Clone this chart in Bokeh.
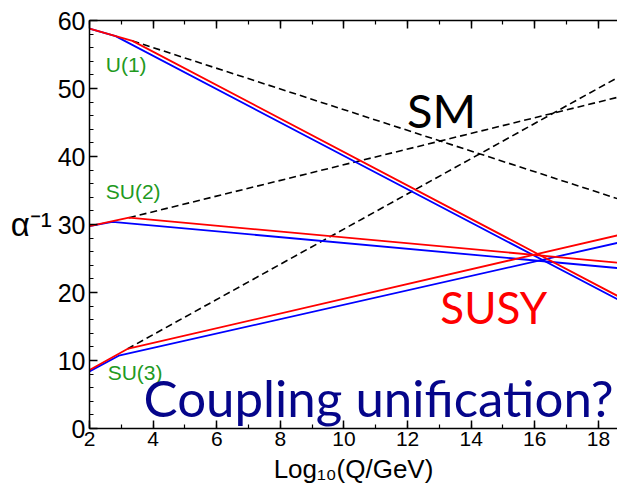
from bokeh.plotting import figure
from bokeh.models import Label, LinearAxis, SingleIntervalTicker, Range1d
from bokeh.embed import file_html
from bokeh.resources import INLINE

# ---- data: alpha^-1 vs log10(Q/GeV), straight segments ----
# U(1)
u1_blue_x = [2.0, 2.82, 18.6]
u1_blue_y = [58.8, 57.7, 19.0]
u1_red_x = [2.0, 3.35, 18.6]
u1_red_y = [58.8, 57.0, 19.5]
u1_sm_x = [3.35, 18.6]
u1_sm_y = [57.0, 33.8]
# SU(2)
su2_blue_x = [2.0, 2.72, 18.6]
su2_blue_y = [29.75, 30.4, 23.6]
su2_red_x = [2.0, 3.24, 18.6]
su2_red_y = [29.75, 31.0, 24.4]
su2_sm_x = [3.24, 18.6]
su2_sm_y = [31.0, 48.7]
# SU(3)
su3_blue_x = [2.0, 2.92, 18.6]
su3_blue_y = [8.4, 10.7, 27.3]
su3_red_x = [2.0, 3.19, 18.6]
su3_red_y = [8.6, 11.7, 28.4]
su3_sm_x = [3.19, 18.6]
su3_sm_y = [11.7, 51.6]

x_min, x_max = 2.0, 18.6
y_min, y_max = 0.0, 60.0

p = figure(width=617, height=486, x_range=Range1d(x_min, x_max), y_range=Range1d(y_min, y_max),
           output_backend="svg", toolbar_location=None,
           min_border_left=89, min_border_right=0, min_border_top=20, min_border_bottom=56)
p.outline_line_color = None
p.grid.visible = False
p.background_fill_color = "white"

bottom = p.below[0]
left = p.left[0]
bottom.ticker = SingleIntervalTicker(interval=2, num_minor_ticks=2)
left.ticker = SingleIntervalTicker(interval=10, num_minor_ticks=5)
top = LinearAxis(ticker=SingleIntervalTicker(interval=2, num_minor_ticks=2))
p.add_layout(top, "above")

for ax in [bottom, left, top]:
    ax.axis_line_width = 1.5
    ax.axis_line_color = "black"
    ax.major_tick_in = 8
    ax.major_tick_out = 0
    ax.minor_tick_in = 4
    ax.minor_tick_out = 0
    ax.major_tick_line_width = 1.5
    ax.minor_tick_line_width = 1.2
    ax.major_tick_line_color = "black"
    ax.minor_tick_line_color = "black"
    ax.major_label_text_font = "Liberation Sans"
    ax.major_label_text_color = "black"

bottom.major_label_text_font_size = "21px"
bottom.major_label_standoff = 3
left.major_label_text_font_size = "25px"
left.major_label_standoff = 4
top.major_label_overrides = {i: "" for i in range(0, 22, 2)}
top.major_label_text_font_size = "1px"
top.major_label_standoff = 0

bottom.axis_label = "Log\u2081\u2080(Q/GeV)"
bottom.axis_label_text_font = "Liberation Sans"
bottom.axis_label_text_font_size = "26px"
bottom.axis_label_text_font_style = "normal"
bottom.axis_label_text_color = "black"
bottom.axis_label_standoff = 5

left.axis_label = "\u03b1\u207b\u00b9"
left.axis_label_text_font = "Liberation Sans"
left.axis_label_text_font_size = "33px"
left.axis_label_text_font_style = "normal"
left.axis_label_text_color = "black"
left.axis_label_standoff = 3
try:
    left.axis_label_orientation = "horizontal"
except Exception:
    pass

dash = "7 4"
for xs, ys in [(u1_sm_x, u1_sm_y), (su2_sm_x, su2_sm_y), (su3_sm_x, su3_sm_y)]:
    p.line(xs, ys, line_color="black", line_width=1.6, line_dash=dash)
for xs, ys in [(u1_blue_x, u1_blue_y), (su2_blue_x, su2_blue_y), (su3_blue_x, su3_blue_y)]:
    p.line(xs, ys, line_color="#0000ff", line_width=1.8)
for xs, ys in [(u1_red_x, u1_red_y), (su2_red_x, su2_red_y), (su3_red_x, su3_red_y)]:
    p.line(xs, ys, line_color="#ff0000", line_width=1.8)

green = "#1f9a1f"
for txt, x, y in [("U(1)", 2.51, 53.5), ("SU(2)", 2.51, 34.8), ("SU(3)", 2.57, 8.2)]:
    p.add_layout(Label(x=x, y=y, text=txt, text_font="Liberation Sans", text_font_size="21px",
                       text_color=green, text_baseline="alphabetic"))

p.add_layout(Label(x=11.98, y=46.8, text="SM", text_font="Lato", text_font_size="47px",
                   text_color="black", text_baseline="alphabetic"))
p.add_layout(Label(x=13.03, y=17.9, text="SUSY", text_font="Lato", text_font_size="44px",
                   text_color="#ff0000", text_baseline="alphabetic"))
p.add_layout(Label(x=3.70, y=4.6, text="Coupling unification?", text_font="Lato",
                   text_font_size="51px", text_color="#05058a", text_baseline="alphabetic"))

open("out.html", "w").write(file_html(p, INLINE))
